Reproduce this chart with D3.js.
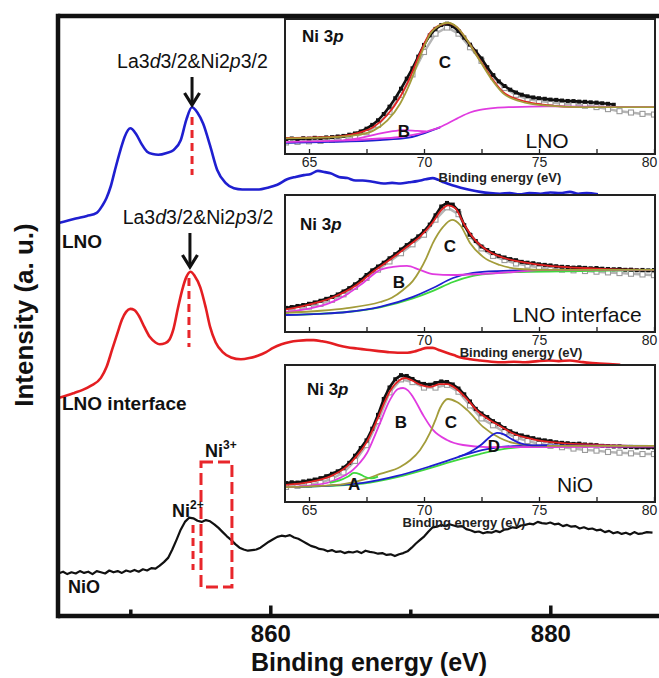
<!DOCTYPE html>
<html><head><meta charset="utf-8">
<script src="https://cdn.jsdelivr.net/npm/d3@7"></script>
<style>
body{margin:0;background:#fff}
svg text{font-family:"Liberation Sans",Arial,sans-serif}
</style>
</head><body>
<svg id="c" width="659" height="678"></svg>
<script>
// ---------------- DATA ----------------
const mainMajorTicks = [860, 880];
const mainMinorTicks = [850, 870];
const insetTicks = [65, 67.5, 70, 72.5, 75, 77.5, 80];
const insetTickLabels = [65, 70, 75, 80];

// main spectra [binding energy eV, intensity a.u. incl. offset]
const lnoSpectrum = [[844.86,65.4],[845.5,65.8],[846.2,66.2],[846.9,66.6],[847.6,67.1],[848.0,68.3],[848.3,69.6],[848.6,71.5],[848.9,74.2],[849.3,77.6],[849.6,79.8],[850.0,81.2],[850.4,80.3],[850.8,78.6],[851.2,77.3],[851.6,76.9],[852.0,76.8],[852.6,77.1],[853.1,77.6],[853.6,79.2],[854.0,82.6],[854.4,84.7],[854.8,83.8],[855.2,82.0],[855.7,78.3],[856.2,74.3],[856.8,72.1],[857.4,71.2],[858.0,71.0],[858.6,71.0],[859.2,71.0],[859.8,71.3],[860.5,71.8],[861.2,72.7],[861.8,73.1],[862.4,73.4],[862.9,73.6],[863.4,74.1],[863.9,73.9],[864.3,73.7],[864.9,73.1],[865.5,72.9],[866.1,72.5],[866.6,72.5],[867.3,72.3],[868.1,72.0],[868.7,72.1],[869.3,72.0],[869.9,72.2],[870.5,72.4],[871.1,72.7],[871.6,72.9],[872.0,72.6],[872.4,72.2],[873.0,71.7],[873.6,71.3],[874.3,70.9],[875.0,70.6],[875.7,70.4],[876.4,70.3],[877.1,70.4],[877.8,70.2],[878.5,70.4],[879.3,70.3],[880.0,70.5],[880.7,70.4],[881.4,70.6],[882.0,70.3],[882.6,70.4],[883.4,70.2]];

const lnoInterfaceSpectrum = [[844.86,36.25],[845.5,36.7],[846.0,37.1],[846.6,37.6],[847.2,38.3],[847.9,39.6],[848.3,41.4],[848.7,44.3],[849.1,47.2],[849.4,49.3],[849.7,50.6],[850.0,51.1],[850.3,50.9],[850.6,50.0],[851.0,48.1],[851.4,46.4],[851.8,45.5],[852.1,45.2],[852.5,45.4],[852.8,46.0],[853.1,47.9],[853.4,51.2],[853.7,54.2],[854.0,56.4],[854.3,57.3],[854.6,56.6],[855.0,54.7],[855.4,51.2],[855.7,48.1],[856.1,45.5],[856.6,43.9],[857.2,43.0],[857.9,42.7],[858.5,42.9],[859.1,43.3],[859.7,43.9],[860.2,44.6],[860.8,45.2],[861.4,45.6],[862.0,45.8],[862.6,45.9],[863.1,45.9],[863.7,45.7],[864.3,45.4],[864.9,45.0],[865.5,44.7],[866.2,44.5],[866.9,44.3],[867.6,44.1],[868.4,43.9],[869.1,43.8],[869.8,43.8],[870.3,44.0],[870.7,44.3],[871.2,44.6],[871.6,44.6],[872.1,44.2],[872.6,43.8],[873.1,43.4],[873.6,43.0],[874.3,42.7],[875.0,42.5],[875.8,42.3],[876.6,42.2],[877.4,42.3],[878.2,42.2],[879.1,42.4],[879.9,42.5],[880.6,42.4],[881.4,42.5],[882.1,42.3],[882.8,42.1],[883.5,42.0],[884.2,41.9],[885.0,41.8]];

const nioSpectrum = [[844.86,7.0],[845.2,7.3],[845.5,6.9],[845.8,7.2],[846.1,7.0],[846.4,7.4],[846.7,7.1],[847.0,7.3],[847.3,6.9],[847.6,7.4],[847.9,7.2],[848.2,7.0],[848.5,7.5],[848.8,7.2],[849.1,7.4],[849.4,7.1],[849.7,7.5],[850.0,7.3],[850.3,7.6],[850.6,7.3],[850.9,7.7],[851.2,7.5],[851.5,7.9],[851.8,7.8],[852.1,8.3],[852.4,8.9],[852.7,9.6],[853.0,11.0],[853.3,12.6],[853.6,14.3],[853.9,15.6],[854.2,16.3],[854.5,16.2],[854.8,15.8],[855.1,15.6],[855.4,15.9],[855.7,15.7],[856.0,15.2],[856.3,14.6],[856.6,13.9],[856.9,13.2],[857.2,12.6],[857.5,11.9],[857.8,11.3],[858.1,11.0],[858.4,10.8],[858.7,10.9],[859.0,11.0],[859.3,11.3],[859.6,11.8],[859.9,12.3],[860.2,12.7],[860.5,13.1],[860.8,13.3],[861.1,13.2],[861.4,13.4],[861.7,13.0],[862.0,12.8],[862.3,12.4],[862.6,12.0],[862.9,11.6],[863.2,11.4],[863.5,11.1],[863.8,11.0],[864.1,10.7],[864.4,10.9],[864.7,10.6],[865.0,10.7],[865.3,10.4],[865.6,10.6],[865.9,10.5],[866.2,10.7],[866.5,10.4],[866.8,10.8],[867.1,10.6],[867.4,10.5],[867.7,10.3],[868.0,10.4],[868.3,10.1],[868.6,10.2],[868.9,9.9],[869.2,10.2],[869.5,10.4],[869.8,10.7],[870.1,11.3],[870.4,12.0],[870.7,12.6],[871.0,13.2],[871.3,14.0],[871.6,14.7],[871.9,14.8],[872.2,15.1],[872.5,14.9],[872.8,15.2],[873.1,15.0],[873.4,14.8],[873.7,14.9],[874.0,14.4],[874.3,14.2],[874.6,13.9],[874.9,14.0],[875.2,13.7],[875.5,13.9],[875.8,13.8],[876.1,14.1],[876.4,13.9],[876.7,14.3],[877.0,14.4],[877.3,14.7],[877.6,14.6],[877.9,15.0],[878.2,15.1],[878.5,15.3],[878.8,15.2],[879.1,15.6],[879.4,15.4],[879.7,15.3],[880.0,15.5],[880.3,15.2],[880.6,15.3],[880.9,14.9],[881.2,15.1],[881.5,14.8],[881.8,14.9],[882.1,14.5],[882.4,14.7],[882.7,14.4],[883.0,14.5],[883.3,14.2],[883.6,14.3],[883.9,13.9],[884.2,14.1],[884.5,13.7],[884.8,13.9],[885.1,13.6],[885.4,13.8],[885.7,13.5],[886.0,13.9],[886.3,13.6],[886.6,13.7],[886.9,13.9],[887.3,13.8]];

// ---- inset 1: LNO, Ni 3p [eV, % of inset height]
const lnoNi3pData = [[64.00,11.0],[64.25,11.4],[64.50,10.9],[64.75,11.6],[65.00,11.3],[65.25,11.9],[65.50,11.6],[65.75,12.2],[66.00,12.4],[66.25,12.9],[66.50,13.3],[66.75,14.2],[67.00,15.1],[67.25,16.6],[67.50,18.6],[67.75,21.4],[68.00,24.8],[68.25,29.4],[68.50,34.8],[68.75,41.0],[69.00,48.0],[69.25,55.4],[69.50,63.0],[69.75,71.6],[70.00,80.2],[70.25,87.2],[70.50,92.0],[70.75,94.8],[71.00,95.8],[71.25,94.0],[71.50,90.4],[71.75,85.6],[72.00,80.4],[72.25,75.4],[72.50,70.2],[72.75,63.8],[73.00,58.0],[73.25,53.4],[73.50,50.0],[73.75,47.3],[74.00,45.2],[74.25,43.6],[74.50,42.4],[74.75,41.6],[75.00,41.0],[75.25,40.6],[75.50,40.0],[75.75,39.8],[76.00,39.3],[76.25,39.0],[76.50,38.9],[76.75,38.5],[77.00,38.4],[77.25,38.0],[77.50,37.8],[77.75,37.3],[78.00,36.9],[78.25,36.2]];
const lnoNi3pRaw = [[64.0,8.5],[64.5,8.9],[65.0,9.3],[65.5,9.6],[66.0,10.4],[66.5,11.2],[67.0,12.8],[67.5,16.0],[68.0,21.5],[68.5,31.0],[69.0,43.5],[69.5,58.5],[70.0,75.0],[70.5,88.5],[71.0,93.0],[71.5,88.5],[72.0,78.5],[72.5,68.5],[73.0,57.0],[73.5,48.5],[74.0,43.5],[74.5,40.5],[75.0,39.0],[75.5,38.0],[76.0,37.0],[76.5,36.5],[77.0,35.5],[77.5,34.5],[78.0,33.0],[78.5,31.5],[79.0,30.5],[79.5,29.5],[80.0,29.0]];
const lnoNi3pFit = [[64.0,11.8],[65.0,12.1],[65.9,12.5],[66.5,13.4],[67.1,15.4],[67.8,19.8],[68.4,28.7],[68.96,41.9],[69.4,56.6],[69.83,74.2],[70.26,88.9],[70.7,94.8],[71.04,96.3],[71.43,93.3],[71.87,83.8],[72.43,69.1],[73.0,54.4],[73.43,45.6],[74.17,39.7],[75.35,36.0],[76.78,34.5],[78.22,34.5],[80.0,34.5]];
const lnoNi3pC = [[64.0,11.5],[65.9,12.2],[67.1,14.0],[67.8,17.2],[68.4,24.5],[68.96,37.0],[69.4,52.5],[69.83,71.5],[70.26,88.0],[70.7,94.8],[71.04,96.5],[71.43,93.3],[71.87,83.8],[72.43,68.5],[73.0,53.5],[73.43,44.8],[74.17,38.8],[75.35,35.5],[76.78,34.5],[80.0,34.5]];
const lnoNi3pB = [[66.5,10.0],[67.35,12.3],[68.0,14.8],[68.52,16.4],[69.09,17.6],[69.7,17.0],[70.1,16.6]];
const lnoNi3pBg = [[64.0,8.8],[66.0,9.6],[68.09,11.4],[69.0,12.5],[69.52,14.0],[70.1,16.5],[70.7,19.8],[71.43,26.0],[72.0,30.5],[72.43,32.4],[73.1,33.9],[73.87,34.5],[75.35,35.0],[77.0,34.9],[80.0,34.5]];
const lnoNi3pBg2 = [[64.0,8.2],[66.0,8.9],[68.09,10.3],[69.26,11.8],[69.7,13.5],[69.96,15.0],[70.4,17.8],[70.7,19.6]];

// ---- inset 2: LNO interface
const ifNi3pData = [[64.00,17.6],[64.25,18.2],[64.50,19.0],[64.75,19.7],[65.00,20.6],[65.25,21.6],[65.50,22.8],[65.75,24.2],[66.00,25.6],[66.25,27.4],[66.50,29.6],[66.75,32.0],[67.00,34.8],[67.25,38.0],[67.50,41.6],[67.75,45.0],[68.00,47.8],[68.25,50.6],[68.50,53.8],[68.75,56.8],[69.00,60.2],[69.25,63.4],[69.50,66.6],[69.75,69.8],[70.00,73.6],[70.25,78.4],[70.50,85.2],[70.75,91.6],[71.00,94.2],[71.25,93.0],[71.50,88.4],[71.75,78.0],[72.00,71.0],[72.25,66.4],[72.50,62.4],[72.75,59.8],[73.00,57.6],[73.25,55.6],[73.50,54.4],[73.75,53.2],[74.00,52.4],[74.25,51.2],[74.50,50.6],[74.75,50.2],[75.00,49.4],[75.25,49.0],[75.50,48.6],[75.75,48.0],[76.00,47.6],[76.25,47.4],[76.50,47.0],[76.75,47.2],[77.00,46.8],[77.25,46.5],[77.50,46.7],[77.75,46.2],[78.00,46.0],[78.25,45.8],[78.50,45.9],[78.75,45.4],[79.00,45.5],[79.25,45.1],[79.50,45.3],[79.75,45.0],[80.00,45.2]];
const ifNi3pRaw = [[64.0,15.5],[64.5,16.8],[65.0,18.5],[65.5,20.5],[66.0,23.5],[66.5,27.5],[67.0,33.0],[67.5,39.5],[68.0,45.5],[68.5,51.5],[69.0,57.5],[69.5,64.0],[70.0,71.0],[70.5,82.0],[71.0,91.0],[71.5,86.0],[72.0,70.0],[72.5,61.0],[73.0,55.5],[73.5,52.5],[74.0,50.0],[74.5,48.5],[75.0,47.0],[75.5,46.0],[76.0,45.5],[76.5,45.0],[77.0,44.5],[77.5,44.0],[78.0,43.5],[78.5,43.0],[79.0,42.5],[79.5,42.0],[80.0,41.5]];
const ifNi3pFit = [[64.0,16.5],[65.0,20.0],[66.0,25.0],[67.0,33.5],[67.75,43.5],[68.5,52.5],[69.25,62.0],[69.85,70.0],[70.4,80.5],[70.75,89.0],[71.05,92.5],[71.35,90.5],[71.75,78.5],[72.15,68.5],[72.75,59.5],[73.5,54.0],[74.5,50.5],[76.0,47.5],[77.5,46.3],[79.0,45.5],[80.0,45.3]];
const ifNi3pC = [[64.0,13.9],[65.5,15.5],[66.65,17.5],[68.09,21.9],[68.6,25.0],[69.09,30.7],[69.5,37.0],[69.83,45.3],[70.1,54.0],[70.39,65.0],[70.83,76.7],[71.22,81.8],[71.57,78.1],[72.0,65.0],[72.57,54.8],[73.3,48.9],[74.17,46.0],[75.35,45.3],[80.0,45.3]];
const ifNi3pB = [[64.0,14.6],[65.0,17.0],[65.91,21.2],[66.7,28.0],[67.35,35.8],[68.09,45.3],[68.65,47.5],[69.26,48.2],[69.83,45.3],[70.39,42.3],[71.26,41.6],[72.43,42.3],[73.87,43.8],[75.35,45.3],[80.0,45.3]];
const ifNi3pBgBlue = [[64.0,12.4],[65.5,13.3],[66.65,14.6],[68.09,18.3],[69.52,25.6],[70.39,32.1],[71.26,39.4],[72.13,43.1],[73.17,44.5],[75.35,45.3],[80.0,45.3]];
const ifNi3pBgGreen = [[64.0,12.4],[66.65,14.6],[68.09,18.0],[69.52,24.5],[70.39,30.0],[71.26,36.5],[72.13,40.9],[73.17,43.1],[74.17,43.8],[76.78,44.5],[80.0,45.3]];

// ---- inset 3: NiO
const nioNi3pData = [[64.00,13.8],[64.25,14.4],[64.50,14.2],[64.75,15.0],[65.00,15.6],[65.25,16.4],[65.50,17.4],[65.75,18.8],[66.00,20.6],[66.25,22.4],[66.50,25.0],[66.75,28.6],[67.00,33.8],[67.25,39.4],[67.50,45.0],[67.75,53.5],[68.00,63.6],[68.25,75.2],[68.50,83.6],[68.75,89.6],[69.00,92.6],[69.25,92.0],[69.50,89.8],[69.75,87.4],[70.00,86.2],[70.25,85.6],[70.50,86.8],[70.75,88.0],[71.00,87.6],[71.25,85.8],[71.50,82.8],[71.75,78.6],[72.00,73.4],[72.25,68.0],[72.50,64.6],[72.75,62.0],[73.00,59.0],[73.25,56.8],[73.50,54.0],[73.75,51.6],[74.00,49.8],[74.25,48.6],[74.50,47.6],[74.75,46.6],[75.00,45.6],[75.25,45.0],[75.50,44.4],[75.75,43.6],[76.00,43.2],[76.25,42.9],[76.50,42.4],[76.75,42.6],[77.00,42.0],[77.25,41.8],[77.50,41.5],[77.75,41.0],[78.00,40.8],[78.25,40.5],[78.50,40.6],[78.75,40.1],[79.00,40.2],[79.25,39.8],[79.50,40.0],[79.75,39.7],[80.00,39.9]];
const nioNi3pRaw = [[64.0,11.0],[64.5,11.8],[65.0,12.6],[65.5,14.0],[66.0,17.0],[66.5,21.5],[67.0,30.0],[67.5,41.5],[68.0,59.0],[68.5,80.0],[69.0,89.5],[69.5,87.5],[70.0,83.5],[70.5,83.5],[71.0,85.5],[71.5,80.5],[72.0,70.5],[72.5,61.0],[73.0,56.0],[73.5,51.0],[74.0,47.0],[74.5,44.5],[75.0,42.5],[75.5,41.0],[76.0,40.0],[76.5,39.0],[77.0,38.0],[77.5,37.5],[78.0,36.5],[78.5,36.0],[79.0,35.5],[79.5,35.0],[80.0,35.0]];
const nioNi3pFit = [[64.0,12.5],[65.0,14.5],[65.9,18.5],[66.65,26.0],[67.1,34.0],[67.5,43.5],[67.95,59.5],[68.3,73.5],[68.6,83.0],[68.9,88.5],[69.15,90.5],[69.45,89.0],[69.85,85.5],[70.25,84.0],[70.7,86.0],[71.0,86.0],[71.45,82.0],[71.9,74.5],[72.35,66.0],[72.75,61.0],[73.3,55.5],[73.9,49.8],[74.75,45.8],[76.0,43.0],[77.5,41.8],[79.0,41.0],[80.0,40.8]];
const nioNi3pA = [[65.9,14.0],[66.3,15.6],[66.7,18.6],[66.95,21.2],[67.2,20.4],[67.4,18.6],[67.7,17.2],[68.0,18.5]];
const nioNi3pB = [[64.0,10.9],[65.0,12.0],[65.91,14.6],[66.4,18.0],[66.91,23.4],[67.2,28.5],[67.52,35.8],[67.8,46.0],[68.09,57.7],[68.52,74.5],[68.87,82.5],[69.09,83.2],[69.3,81.5],[69.52,76.7],[69.96,63.5],[70.39,52.6],[71.0,45.3],[71.7,41.6],[72.74,40.1],[73.87,40.1],[80.0,40.5]];
const nioNi3pC = [[64.0,10.9],[65.5,11.8],[66.5,13.0],[67.52,17.0],[68.09,20.5],[68.96,25.6],[69.4,30.5],[69.83,38.0],[70.26,50.4],[70.5,60.0],[70.7,68.6],[71.04,75.2],[71.43,73.0],[71.87,67.2],[72.57,54.8],[73.3,46.7],[73.87,43.1],[74.74,41.2],[76.0,40.9],[80.0,40.9]];
const nioNi3pD = [[71.5,33.0],[72.0,36.5],[72.5,42.0],[72.9,48.0],[73.17,50.4],[73.45,49.5],[73.8,46.0],[74.2,42.8],[74.7,41.3],[75.35,41.4]];
const nioNi3pBgBlue = [[64.0,10.9],[65.91,12.0],[67.35,13.9],[68.83,19.0],[70.26,26.0],[71.0,30.0],[71.7,34.0],[72.74,38.6],[73.87,40.8],[75.35,41.4],[80.0,41.0]];
const nioNi3pBgGreen = [[64.0,10.9],[65.91,11.8],[67.35,13.4],[68.83,18.2],[70.26,24.8],[71.0,28.5],[71.7,31.8],[72.43,35.0],[73.17,37.8],[73.87,39.6],[75.35,40.6],[80.0,41.0]];

// ---------------- DRAWING ----------------
const svg = d3.select('#c');
const FONT = '"Liberation Sans",Arial,sans-serif';
const C = {blue:'#1f1fd0', red:'#e41e22', olive:'#a39c3a', magenta:'#e03be0', green:'#3fd83f', fitRed:'#e32222', gray:'#9a9a9a'};

const x = d3.scaleLinear().domain([844.8, 888]).range([57.5, 662.3]);
const y = d3.scaleLinear().domain([0, 100]).range([615.5, 15.5]);

const smooth = d3.line().x(d => x(d[0])).y(d => y(d[1])).curve(d3.curveMonotoneX);
const jag = d3.line().x(d => x(d[0])).y(d => y(d[1]));

svg.append('path').attr('d', smooth(lnoSpectrum)).attr('fill','none').attr('stroke',C.blue).attr('stroke-width',2.6).attr('stroke-linejoin','round');
svg.append('path').attr('d', smooth(lnoInterfaceSpectrum)).attr('fill','none').attr('stroke',C.red).attr('stroke-width',2.6).attr('stroke-linejoin','round');
svg.append('path').attr('d', jag(nioSpectrum)).attr('fill','none').attr('stroke','#111').attr('stroke-width',2.2).attr('stroke-linejoin','round');

// dashed markers
const dashRed = '#e8262b';
[[854.41,83.1,73.4],[854.19,56.25,44.75],[854.48,15.1,7.6]].forEach(([e,a,b]) => {
  svg.append('line').attr('x1',x(e)).attr('x2',x(e)).attr('y1',y(a)).attr('y2',y(b))
    .attr('stroke',dashRed).attr('stroke-width',3).attr('stroke-dasharray','8,5');
});
svg.append('rect').attr('x',x(855.05)).attr('y',y(25.6)).attr('width',x(857.26)-x(855.05)).attr('height',y(4.75)-y(25.6))
  .attr('fill','none').attr('stroke',dashRed).attr('stroke-width',3).attr('stroke-dasharray','12,5');

// arrows
[[854.41,89.75,85.08],[854.26,63.75,58.08]].forEach(([e,a,b]) => {
  const xx = x(e), y0 = y(a), y1 = y(b);
  svg.append('line').attr('x1',xx).attr('x2',xx).attr('y1',y0).attr('y2',y1-2).attr('stroke','#111').attr('stroke-width',3);
  svg.append('path').attr('d',`M${xx-7.5},${y1-12}L${xx},${y1}L${xx+7.5},${y1-12}`).attr('fill','none').attr('stroke','#111').attr('stroke-width',3.2).attr('stroke-linejoin','miter');
});

// annotation texts
function laText(e, v) {
  const t = svg.append('text').attr('x',x(e)).attr('y',y(v)).attr('text-anchor','middle').attr('font-size',19.5).attr('fill','#111');
  t.append('tspan').text('La3');
  t.append('tspan').attr('font-style','italic').text('d');
  t.append('tspan').text('3/2&Ni2');
  t.append('tspan').attr('font-style','italic').text('p');
  t.append('tspan').text('3/2');
}
laText(854.44, 91.25);
laText(854.84, 65.25);

function label(e, v, txt, size, weight) {
  svg.append('text').attr('x',x(e)).attr('y',y(v)).attr('font-size',size).attr('font-weight',weight).attr('fill','#111').text(txt);
}
label(845.12, 61.25, 'LNO', 19, 'bold');
label(845.12, 34.25, 'LNO interface', 19, 'bold');
label(845.55, 3.75, 'NiO', 18, 'bold');

function ion(e, v, sup) {
  const t = svg.append('text').attr('x',x(e)).attr('y',y(v)).attr('font-size',18).attr('font-weight','bold').attr('fill','#111');
  t.append('tspan').text('Ni');
  t.append('tspan').attr('font-size',12).attr('dy',-8).text(sup);
}
ion(852.98, 16.4, '2+');
ion(855.34, 26.4, '3+');

// axes
const axB = svg.append('g').attr('transform',`translate(0,${y(0)})`)
  .call(d3.axisBottom(x).tickValues(mainMajorTicks).tickSizeInner(-10).tickSizeOuter(0).tickPadding(9).tickFormat(d3.format('d')));
axB.select('.domain').attr('stroke-width',4.5).attr('stroke','#111');
axB.selectAll('.tick line').attr('stroke-width',3.5).attr('stroke','#111');
axB.selectAll('.tick text').attr('font-size',24).attr('font-weight','bold').attr('font-family',FONT).attr('fill','#111');
const axBm = svg.append('g').attr('transform',`translate(0,${y(0)})`)
  .call(d3.axisBottom(x).tickValues(mainMinorTicks).tickSizeInner(-6).tickSizeOuter(0).tickFormat(''));
axBm.select('.domain').remove();
axBm.selectAll('.tick line').attr('stroke-width',3.5).attr('stroke','#111');

const axT = svg.append('g').attr('transform',`translate(0,${y(100)})`).call(d3.axisTop(x).tickValues([]).tickSizeOuter(0));
axT.select('.domain').attr('stroke-width',4.5).attr('stroke','#111');
const axL = svg.append('g').attr('transform',`translate(${x(844.8)},0)`).call(d3.axisLeft(y).tickValues([]).tickSizeOuter(0));
axL.select('.domain').attr('stroke-width',4.5).attr('stroke','#111').attr('stroke-linecap','square');

svg.append('text').attr('transform',`translate(33,315) rotate(-90)`).attr('text-anchor','middle')
  .attr('font-size',26).attr('font-weight','bold').attr('fill','#111').text('Intensity (a. u.)');
svg.append('text').attr('x',369).attr('y',671).attr('text-anchor','middle')
  .attr('font-size',25).attr('font-weight','bold').attr('fill','#111').text('Binding energy (eV)');

// ---------------- INSETS ----------------
function drawInset(cfg) {
  const g = svg.append('g');
  const xi = d3.scaleLinear().domain([64, 80]).range([286, 654]);
  const yi = d3.scaleLinear().domain([0, 100]).range([cfg.bottom, cfg.top]);
  const id = 'clip' + cfg.id;
  svg.append('clipPath').attr('id', id).append('rect').attr('x',286).attr('y',cfg.boxTop+1).attr('width',368).attr('height',cfg.bottom-cfg.boxTop-2);
  g.append('rect').attr('x',285).attr('y',cfg.boxTop).attr('width',370).attr('height',cfg.bottom-cfg.boxTop)
    .attr('fill','#fff').attr('stroke','#222').attr('stroke-width',2);
  const inner = g.append('g').attr('clip-path',`url(#${id})`);
  const ln = d3.line().x(d => xi(d[0])).y(d => yi(d[1])).curve(d3.curveMonotoneX);
  const lnRaw = d3.line().x(d => xi(d[0])).y(d => yi(d[1]));

  // open gray squares (raw)
  inner.append('path').attr('d', lnRaw(cfg.raw)).attr('fill','none').attr('stroke','#b5b5b5').attr('stroke-width',2.5);
  inner.selectAll('rect.raw').data(cfg.raw).join('rect').attr('class','raw')
    .attr('x', d => xi(d[0]) - 2.5).attr('y', d => yi(d[1]) - 2.5).attr('width',5).attr('height',5)
    .attr('fill','#fff').attr('stroke',C.gray).attr('stroke-width',1.1);
  // black data
  inner.append('path').attr('d', lnRaw(cfg.data)).attr('fill','none').attr('stroke','#111').attr('stroke-width',2.6);
  inner.selectAll('rect.dat').data(cfg.data).join('rect').attr('class','dat')
    .attr('x', d => xi(d[0]) - 2).attr('y', d => yi(d[1]) - 2).attr('width',4).attr('height',4).attr('fill','#111');
  // fit
  inner.append('path').attr('d', ln(cfg.fit)).attr('fill','none').attr('stroke',C.fitRed).attr('stroke-width',1.8);
  cfg.comps.forEach(c => {
    inner.append('path').attr('d', ln(c.data)).attr('fill','none').attr('stroke',c.color).attr('stroke-width',1.8);
  });

  const ax = g.append('g').attr('transform',`translate(0,${cfg.bottom})`)
    .call(d3.axisBottom(xi).tickValues(insetTicks).tickSizeInner(-5).tickSizeOuter(0).tickPadding(3)
      .tickFormat(d => cfg.labels.includes(d) ? d : ''));
  ax.select('.domain').remove();
  ax.selectAll('.tick line').attr('stroke','#222').attr('stroke-width',1.3);
  ax.selectAll('.tick text').attr('font-size',14).attr('font-family',FONT).attr('fill','#222')
    .attr('dx', d => d === 80 ? -5 : 0);

  g.append('text').attr('x',xi(cfg.title[0])).attr('y',yi(cfg.title[1])).attr('text-anchor','middle')
    .attr('font-size',13).attr('font-weight','bold').attr('fill','#222').text('Binding energy (eV)');

  const t = g.append('text').attr('x',xi(cfg.ni[0])).attr('y',yi(cfg.ni[1])).attr('font-size',17).attr('font-weight','bold').attr('fill','#111');
  t.append('tspan').text('Ni 3');
  t.append('tspan').attr('font-style','italic').text('p');

  cfg.letters.forEach(([txt,e,v]) => {
    g.append('text').attr('x',xi(e)).attr('y',yi(v)).attr('text-anchor','middle').attr('font-size',17).attr('font-weight','bold').attr('fill','#111').text(txt);
  });
  g.append('text').attr('x',xi(cfg.name[1])).attr('y',yi(cfg.name[2])).attr('text-anchor','middle').attr('font-size',21).attr('fill','#111').text(cfg.name[0]);
}

drawInset({id:1, boxTop:19, top:18, bottom:154, labels:insetTickLabels,
  data:lnoNi3pData, raw:lnoNi3pRaw, fit:lnoNi3pFit,
  comps:[{data:lnoNi3pBg2,color:C.blue},{data:lnoNi3pBg,color:C.magenta},{data:lnoNi3pB,color:C.magenta},{data:lnoNi3pC,color:C.olive}],
  title:[73.3,-20.8], ni:[64.7,82.4], letters:[['C',70.91,63.2],['B',69.13,12.5]], name:['LNO',75.35,4.4]});

drawInset({id:2, boxTop:195, top:195, bottom:332, labels:[70,75,80],
  data:ifNi3pData, raw:ifNi3pRaw, fit:ifNi3pFit,
  comps:[{data:ifNi3pBgGreen,color:C.green},{data:ifNi3pBgBlue,color:C.blue},{data:ifNi3pB,color:C.magenta},{data:ifNi3pC,color:C.olive}],
  title:[74.22,-18.4], ni:[64.61,74.5], letters:[['B',68.91,32.1],['C',71.13,58.4]], name:['LNO interface',76.65,7.3]});

drawInset({id:3, boxTop:365, top:365, bottom:502, labels:insetTickLabels,
  data:nioNi3pData, raw:nioNi3pRaw, fit:nioNi3pFit,
  comps:[{data:nioNi3pBgGreen,color:C.green},{data:nioNi3pBgBlue,color:C.blue},{data:nioNi3pB,color:C.magenta},{data:nioNi3pC,color:C.olive},{data:nioNi3pD,color:C.blue},{data:nioNi3pA,color:C.green}],
  title:[71.74,-18.4], ni:[64.91,78.1], letters:[['B',69.0,54.0],['C',71.17,54.0],['D',73.04,36.5],['A',66.96,8.8]], name:['NiO',76.57,7.3]});
</script>
</body></html>
